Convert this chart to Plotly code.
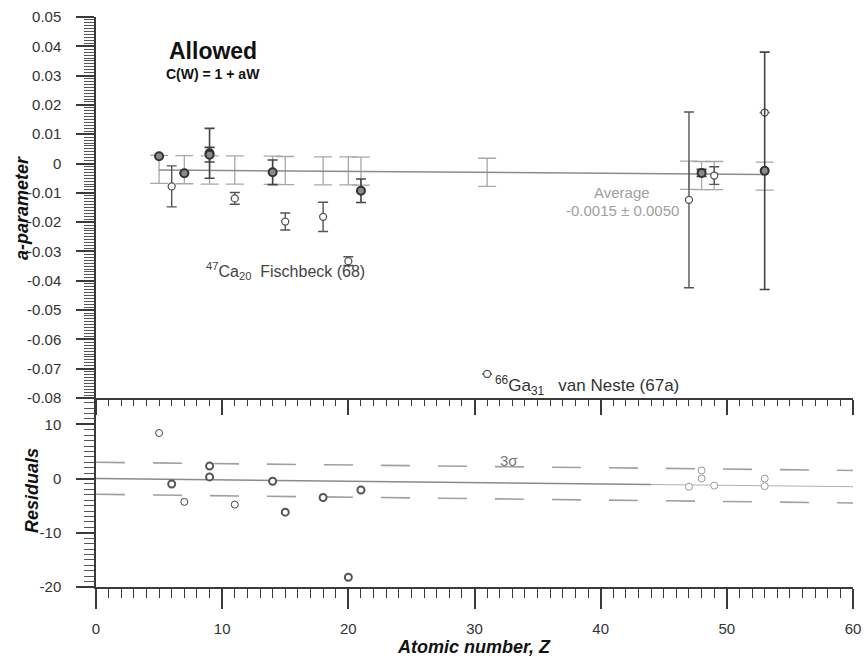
import plotly.graph_objects as go

# ---------------- data ----------------
# top panel: measured a-parameters
z_filled = [5, 7, 9, 9, 14, 21, 48, 53]
a_filled = [0.0025, -0.0033, 0.0035, 0.0030, -0.0030, -0.0093, -0.0032, -0.0025]
e_filled = [0.0, 0.0, 0.0085, 0.0025, 0.0042, 0.0040, 0.0012, 0.0405]

z_open = [6, 11, 15, 18, 20, 31, 47, 49, 53]
a_open = [-0.0078, -0.0119, -0.0198, -0.0182, -0.0333, -0.0718, -0.0124, -0.0041, 0.0174]
e_open = [0.0070, 0.0020, 0.0029, 0.0050, 0.0015, 0.0, 0.0300, 0.0030, 0.0]

# average band drawn at each nucleus
band_z = [5, 7, 9, 11, 14, 15, 18, 20, 21, 31, 47, 48, 49, 53]
band_c = [-0.0020, -0.0021, -0.0022, -0.0022, -0.0023, -0.0024, -0.0025, -0.0025,
          -0.0026, -0.0030, -0.0040, -0.0041, -0.0041, -0.0043]
band_e = [0.0048] * len(band_z)

avg_z = [5, 53]
avg_a = [-0.0022, -0.0037]

# residuals
res_z_thick = [6, 9, 9, 14, 15, 18, 20, 21]
res_thick = [-1.0, 2.3, 0.3, -0.5, -6.2, -3.5, -18.2, -2.1]
res_z_thin = [5, 7, 11]
res_thin = [8.4, -4.3, -4.8]
res_z_light = [47, 48, 48, 49, 53, 53]
res_light = [-1.5, 1.5, 0.0, -1.3, 0.0, -1.4]

fit_z = [0, 44]
fit_r = [0.0, -1.1]
fit_z2 = [44, 60]
fit_r2 = [-1.1, -1.5]
sig_z = [0, 60]
sig_up = [3.0, 1.5]
sig_lo = [-2.9, -4.5]

ytop_vals = [0.05, 0.04, 0.03, 0.02, 0.01, 0, -0.01, -0.02, -0.03, -0.04, -0.05, -0.06, -0.07, -0.08]
ytop_text = ["0.05", "0.04", "0.03", "0.02", "0.01", "0", "-0.01", "-0.02", "-0.03",
             "-0.04", "-0.05", "-0.06", "-0.07", "-0.08"]
yres_vals = [10, 0, -10, -20]
yres_text = ["10", "0", "-10", "-20"]
x_vals = [0, 10, 20, 30, 40, 50, 60]

FONT = "Arial, Liberation Sans, Helvetica, sans-serif"
DARK = "#3a3a3a"

fig = go.Figure()

# gray average band bars
fig.add_trace(go.Scatter(
    x=band_z, y=band_c, mode="markers", xaxis="x", yaxis="y",
    marker=dict(size=1, color="rgba(0,0,0,0)"),
    error_y=dict(type="data", array=band_e, color="#a8a8a8", thickness=1.3, width=9),
    showlegend=False, hoverinfo="skip"))

# average line
fig.add_trace(go.Scatter(
    x=avg_z, y=avg_a, mode="lines", xaxis="x", yaxis="y",
    line=dict(color="#8c8c8c", width=1.5), showlegend=False))

# open points
fig.add_trace(go.Scatter(
    x=z_open, y=a_open, mode="markers", xaxis="x", yaxis="y",
    marker=dict(symbol="circle", size=7, color="white", line=dict(color="#555", width=1.3)),
    error_y=dict(type="data", array=e_open, color="#555", thickness=1.4, width=5),
    showlegend=False))

# filled points
fig.add_trace(go.Scatter(
    x=z_filled, y=a_filled, mode="markers", xaxis="x", yaxis="y",
    marker=dict(symbol="circle", size=8, color="#8a8a8a", line=dict(color="#333", width=2)),
    error_y=dict(type="data", array=e_filled, color="#444", thickness=1.6, width=5),
    showlegend=False))

# residual panel lines
fig.add_trace(go.Scatter(x=fit_z, y=fit_r, mode="lines", xaxis="x2", yaxis="y2",
                         line=dict(color="#8a8a8a", width=1.6), showlegend=False))
fig.add_trace(go.Scatter(x=fit_z2, y=fit_r2, mode="lines", xaxis="x2", yaxis="y2",
                         line=dict(color="#b0b0b0", width=1.0), showlegend=False))
fig.add_trace(go.Scatter(x=sig_z, y=sig_up, mode="lines", xaxis="x2", yaxis="y2",
                         line=dict(color="#a0a0a0", width=1.6, dash="29px,28px"), showlegend=False))
fig.add_trace(go.Scatter(x=sig_z, y=sig_lo, mode="lines", xaxis="x2", yaxis="y2",
                         line=dict(color="#a0a0a0", width=1.6, dash="29px,28px"), showlegend=False))

fig.add_trace(go.Scatter(x=res_z_thick, y=res_thick, mode="markers", xaxis="x2", yaxis="y2",
                         marker=dict(size=7, color="white", line=dict(color="#555", width=2)),
                         showlegend=False))
fig.add_trace(go.Scatter(x=res_z_thin, y=res_thin, mode="markers", xaxis="x2", yaxis="y2",
                         marker=dict(size=7, color="white", line=dict(color="#444", width=1)),
                         showlegend=False))
fig.add_trace(go.Scatter(x=res_z_light, y=res_light, mode="markers", xaxis="x2", yaxis="y2",
                         marker=dict(size=7, color="white", line=dict(color="#999", width=1)),
                         showlegend=False))

split = 0.3316

axis_common = dict(showgrid=False, zeroline=False, showline=True, linecolor=DARK, linewidth=1.5,
                   tickcolor=DARK, automargin=False,
                   tickfont=dict(family=FONT, size=15, color="#333"))

fig.update_layout(
    width=865, height=661,
    paper_bgcolor="white", plot_bgcolor="white",
    margin=dict(l=96, r=12, t=17, b=74),
    font=dict(family=FONT, color="#333"),
    xaxis=dict(domain=[0, 1], anchor="y", range=[0, 60], tickvals=x_vals, showticklabels=False,
               ticks="outside", ticklen=15, tickwidth=1.5,
               minor=dict(dtick=1, tick0=0, ticks="outside", ticklen=6, tickcolor=DARK, tickwidth=1.2),
               **axis_common),
    yaxis=dict(domain=[split, 1], anchor="x", range=[-0.08, 0.05], tickmode="array",
               tickvals=ytop_vals, ticktext=ytop_text, ticks="outside", ticklen=18, tickwidth=1.5,
               ticklabelstandoff=12,
               minor=dict(dtick=0.001, tick0=0, ticks="outside", ticklen=10, tickcolor="#555", tickwidth=1),
               **axis_common),
    xaxis2=dict(domain=[0, 1], anchor="y2", range=[0, 60], tickmode="array", tickvals=x_vals,
                ticktext=[str(v) for v in x_vals], ticks="outside", ticklen=20, tickwidth=1.5,
                ticklabelstandoff=7,
                minor=dict(dtick=1, tick0=0, ticks="outside", ticklen=9, tickcolor=DARK, tickwidth=1.2),
                **axis_common),
    yaxis2=dict(domain=[0, split], anchor="x2", range=[-20, 14.86], tickmode="array",
                tickvals=yres_vals, ticktext=yres_text, ticks="outside", ticklen=18, tickwidth=1.5,
                ticklabelstandoff=12,
                minor=dict(dtick=1, tick0=0, ticks="outside", ticklen=10, tickcolor="#555", tickwidth=1),
                **axis_common),
)

C = dict(showarrow=False, xanchor="center", yanchor="middle")
ann = []
ann.append(dict(x=9.3, y=0.0384, xref="x", yref="y", text="<b>Allowed</b>",
                font=dict(family=FONT, size=23, color="#111"), **C))
ann.append(dict(x=9.3, y=0.0307, xref="x", yref="y", text="<b>C(W) = 1 + aW</b>",
                font=dict(family=FONT, size=14, color="#111"), **C))
ann.append(dict(x=15.0, y=-0.0366, xref="x", yref="y",
                text="<sup>47</sup>Ca<sub>20</sub>  Fischbeck (68)",
                font=dict(family=FONT, size=16, color="#444"), **C))
ann.append(dict(x=38.9, y=-0.0758, xref="x", yref="y",
                text="<sup>66</sup>Ga<sub>31</sub>   van Neste (67a)",
                font=dict(family=FONT, size=17, color="#333"), **C))
ann.append(dict(x=41.7, y=-0.0100, xref="x", yref="y", text="Average",
                font=dict(family=FONT, size=15, color="#a0a0a0"), **C))
ann.append(dict(x=41.7, y=-0.0160, xref="x", yref="y", text="-0.0015 ± 0.0050",
                font=dict(family=FONT, size=15, color="#a0a0a0"), **C))
ann.append(dict(x=32.7, y=3.4, xref="x2", yref="y2", text="3σ",
                font=dict(family=FONT, size=15, color="#777"), **C))
# axis titles
ann.append(dict(x=(22 - 96) / 757, y=(587 - 208) / 570, xref="paper", yref="paper",
                text="<b><i>a-parameter</i></b>", textangle=-90,
                font=dict(family=FONT, size=18, color="#111"), **C))
ann.append(dict(x=(32 - 96) / 757, y=(587 - 491) / 570, xref="paper", yref="paper",
                text="<b><i>Residuals</i></b>", textangle=-90,
                font=dict(family=FONT, size=18, color="#111"), **C))
ann.append(dict(x=(474 - 96) / 757, y=(587 - 647) / 570, xref="paper", yref="paper",
                text="<b><i>Atomic number, Z</i></b>",
                font=dict(family=FONT, size=18, color="#111"), **C))
fig.update_layout(annotations=ann)

# remove the default 8px page margin so the 865x661 figure fills the window exactly
fig.write_html("out.html",
               config={"displayModeBar": False},
               post_script="document.body.style.margin='0';document.body.style.overflow='hidden';")
